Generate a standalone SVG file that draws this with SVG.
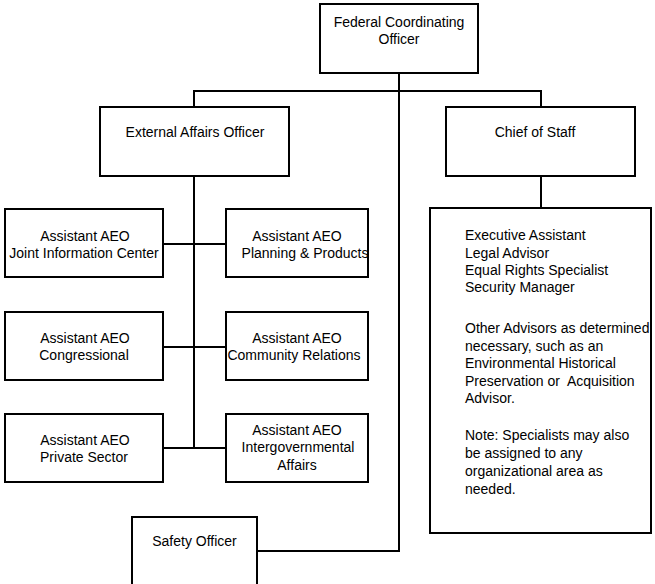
<svg xmlns="http://www.w3.org/2000/svg" width="655" height="584" viewBox="0 0 655 584">
<style>
.box{fill:#fff;stroke:#000;stroke-width:2}
.ln{fill:none;stroke:#000;stroke-width:2}
text{font-family:"Liberation Sans",Arial,sans-serif;font-size:14px;fill:#000}
.c{text-anchor:middle}
</style>
<rect width="655" height="584" fill="#fff"/>
<g id="connectors">
<path class="ln" d="M399,73 V551 H257"/>
<path class="ln" d="M194,107 V91 H541 V107"/>
<path class="ln" d="M541,176 V208"/>
<path class="ln" d="M194,176 V448"/>
<path class="ln" d="M163,244 H226"/>
<path class="ln" d="M163,347 H226"/>
<path class="ln" d="M163,448 H226"/>
</g>
<g id="fco">
<rect class="box" x="320" y="4" width="158" height="69"/>
<text class="c" x="399" y="27">Federal Coordinating</text>
<text class="c" x="399" y="44">Officer</text>
</g>
<g id="eao">
<rect class="box" x="100" y="107" width="189" height="69"/>
<text class="c" x="195" y="137">External Affairs Officer</text>
</g>
<g id="cos">
<rect class="box" x="446" y="107" width="189" height="69"/>
<text class="c" x="535" y="137">Chief of Staff</text>
</g>
<g id="staff">
<rect class="box" x="430" y="208" width="221" height="325"/>
<text x="465" y="240">Executive Assistant</text>
<text x="465" y="257.5">Legal Advisor</text>
<text x="465" y="275">Equal Rights Specialist</text>
<text x="465" y="292">Security Manager</text>
<text x="465" y="333">Other Advisors as determined</text>
<text x="465" y="350.5">necessary, such as an</text>
<text x="465" y="368">Environmental Historical</text>
<text x="465" y="385.5" xml:space="preserve">Preservation or  Acquisition</text>
<text x="465" y="403">Advisor.</text>
<text x="465" y="440">Note: Specialists may also</text>
<text x="465" y="458">be assigned to any</text>
<text x="465" y="476">organizational area as</text>
<text x="465" y="494">needed.</text>
</g>
<g id="jic">
<rect class="box" x="5" y="209" width="158" height="68"/>
<text class="c" x="85" y="241">Assistant AEO</text>
<text class="c" x="84" y="258">Joint Information Center</text>
</g>
<g id="planning">
<rect class="box" x="226" y="209" width="142" height="68"/>
<text class="c" x="297" y="241">Assistant AEO</text>
<text class="c" x="305" y="258">Planning &amp; Products</text>
</g>
<g id="congressional">
<rect class="box" x="5" y="312" width="158" height="68"/>
<text class="c" x="85" y="343">Assistant AEO</text>
<text class="c" x="84" y="360">Congressional</text>
</g>
<g id="community">
<rect class="box" x="226" y="312" width="142" height="68"/>
<text class="c" x="297" y="343">Assistant AEO</text>
<text class="c" x="294" y="360">Community Relations</text>
</g>
<g id="private">
<rect class="box" x="5" y="414" width="158" height="68"/>
<text class="c" x="85" y="445">Assistant AEO</text>
<text class="c" x="84" y="462">Private Sector</text>
</g>
<g id="intergov">
<rect class="box" x="226" y="414" width="142" height="68"/>
<text class="c" x="297" y="435">Assistant AEO</text>
<text class="c" x="298" y="452">Intergovernmental</text>
<text class="c" x="297" y="470">Affairs</text>
</g>
<g id="safety">
<rect class="box" x="132" y="517" width="125" height="90"/>
<text class="c" x="194.5" y="546">Safety Officer</text>
</g>
</svg>
